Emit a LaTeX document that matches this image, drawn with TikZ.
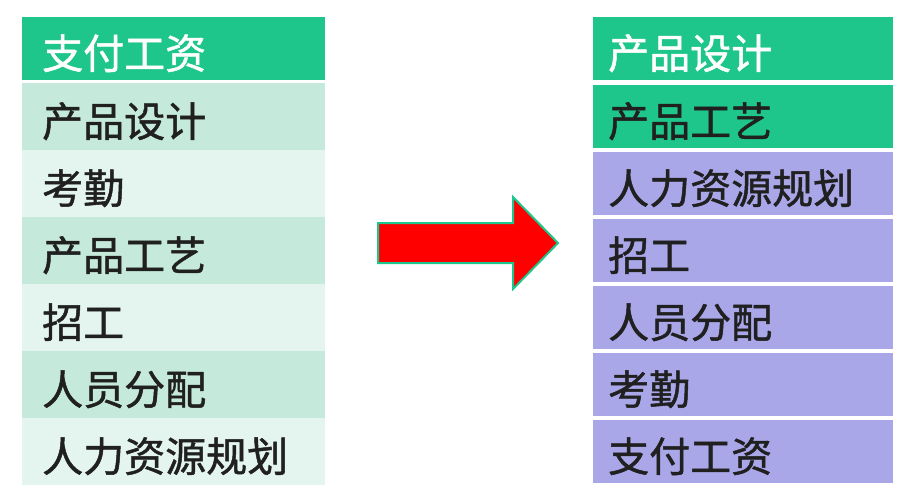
\documentclass[tikz,border=0pt]{standalone}
\usepackage{fontspec}
\newfontfamily\cjk[FakeBold=1.2]{Noto Sans CJK SC}
\definecolor{hdrgreen}{RGB}{30,198,140}
\definecolor{mintdark}{RGB}{197,234,219}
\definecolor{mintlight}{RGB}{228,245,239}
\definecolor{lavender}{RGB}{170,167,233}
\definecolor{inkdark}{RGB}{32,32,32}
\tikzset{
	cell/.style={rectangle, anchor=north west, inner ysep=0pt, minimum height=63pt,
		align=left, text height=40pt, text depth=0pt, text=inkdark,
		font=\cjk\fontsize{41}{41}\selectfont},
	leftcell/.style={cell, inner xsep=20pt, text width=263pt},
	rightcell/.style={cell, inner xsep=15pt, text width=270pt},
}
\begin{document}
\begin{tikzpicture}[x=1pt,y=-1pt]
	\useasboundingbox[fill=white] (0,0) rectangle (901,499);

	% Before
	\node[leftcell, fill=hdrgreen, text=white] (L0) at (22,17) {支付工资};
	\foreach \t [count=\i] in {产品设计,考勤,产品工艺,招工,人员分配,人力资源规划}{
		\ifodd\i \def\rowcol{mintdark}\else \def\rowcol{mintlight}\fi
		\pgfmathsetmacro\yy{83+67*(\i-1)}
		\node[leftcell, fill=\rowcol, minimum height=67pt] (L\i) at (22,\yy) {\t};
	}

	% After
	\node[rightcell, fill=hdrgreen, text=white] (R0) at (593,17) {产品设计};
	\node[rightcell, fill=hdrgreen] (R1) at (593,85) {产品工艺};
	\foreach \t [count=\i from 2] in {人力资源规划,招工,人员分配,考勤,支付工资}{
		\pgfmathsetmacro\yy{85+67*(\i-1)}
		\node[rightcell, fill=lavender] (R\i) at (593,\yy) {\t};
	}

	% Arrow
	\filldraw[fill=red, draw=hdrgreen, line width=2pt, line join=miter]
		(378,223) -- (513,223) -- (513,197) -- (558,243)
		-- (513,289) -- (513,263) -- (378,263) -- cycle;
\end{tikzpicture}
\end{document}
